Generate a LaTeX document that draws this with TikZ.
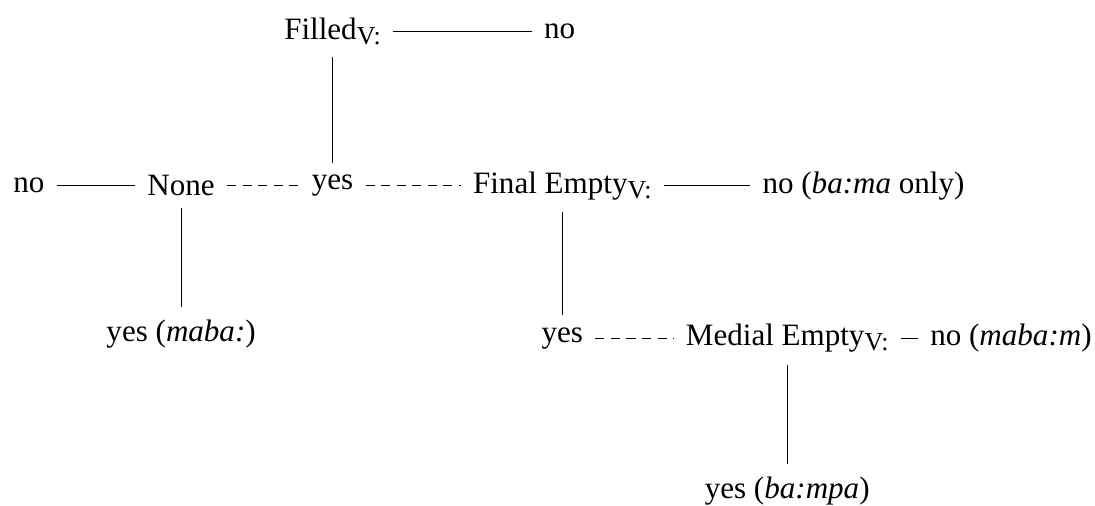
\documentclass[tikz,border=0pt,12pt]{standalone}
\usepackage{fontspec}
\setmainfont{Liberation Serif}
\usetikzlibrary{positioning}

\newcommand{\vsub}{\raisebox{-2pt}{\fontsize{10}{12}\selectfont V:}}

\begin{document}
\begin{tikzpicture}[every node/.style={inner sep=4.6pt},
  opt/.style={dash pattern=on 3.5pt off 2.5pt}]

\node(f){Filled\vsub};
\node[right=1.88cm of f](fn){no};

\node[below=1.43cm of f](fy){yes};
\node[left=0.98cm of fy](none){None};
\node[left=1.06cm of none](nonen){no};
\node[right=1.29cm of fy](fe){Final Empty\vsub};
\node[right=1.17cm of fe](fen){no (\textit{ba:ma} only)};

\node[below=1.34cm of none](noney){yes (\textit{maba:})};
\node[below=1.40cm of fe](fey){yes};
\node[right=1.06cm of fey](me){Medial Empty\vsub};
\node[right=0.23cm of me](men){no (\textit{maba:m})};

\node[below=1.35cm of me](mey){yes (\textit{ba:mpa})};

\draw(f)--(fn);
\draw(f)--(fy);
\draw(nonen)--(none);
\draw[opt](none)--(fy);
\draw[opt](fy)--(fe);
\draw(fe)--(fen);
\draw(none)--(noney);
\draw(fe)--(fey);
\draw[opt](fey)--(me);
\draw(me)--(men);
\draw(me)--(mey);

\coordinate(top) at ([yshift=2pt]f.north);
\coordinate(lft) at ([xshift=-0.4pt]nonen.west);
\coordinate(rgt) at ([xshift=-3.5pt]men.east);
\coordinate(bot) at ([yshift=4.6pt]mey.south);
\pgfresetboundingbox
\useasboundingbox (lft |- top) rectangle (rgt |- bot);
\end{tikzpicture}
\end{document}
